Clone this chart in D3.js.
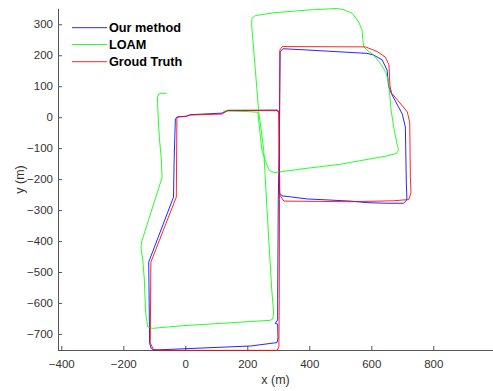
<!DOCTYPE html>
<html>
<head>
<meta charset="utf-8">
<script src="https://cdn.jsdelivr.net/npm/d3@7/dist/d3.min.js"></script>
<style>
  html, body { margin: 0; padding: 0; background: #fff; }
  svg { display: block; font-family: "Liberation Sans", Arial, Helvetica, sans-serif; }
</style>
</head>
<body>
<svg id="chart" width="493" height="391"></svg>
<script>
// Trajectories in metres (x, y)
const gtX = [-27, -21, 0, 16, 118, 139, 296, 302, 303, 305, 318, 532, 671, 721, 728, 726, 724, 716, 684, 665,
             660, 657, 645, 619, 581, 313, 305, 304, 304, 303, 302, 296, -81, -103, -113, -111, -29, -27];
const gtY = [-3, 1, 2, 7, 10, 22, 21, 14, -106, -251, -271, -273, -270, -266, -245, -193, -16, 17, 56, 78,
             104, 169, 194, 212, 227, 228, 217, -9, -267, -590, -742, -753, -753, -750, -729, -468, -258, -3];

const oursX = [-32, -26, 3, 16, 118, 136, 298, 302, 304, 304, 312, 393, 532, 586, 651, 704, 715, 713, 710, 700,
               667, 656, 651, 635, 607, 586, 393, 315, 306, 304, 300, 298, 298, 290, 298, 299, 296, 210, -102, -110,
               -115, -118, -38, -36, -32];
const oursY = [-6, 1, 3, 8, 13, 22, 23, 15, -106, -245, -254, -264, -271, -276, -278, -278, -267, -213, -32, 10,
               72, 99, 152, 185, 201, 206, 217, 221, 211, -9, -267, -590, -655, -666, -668, -713, -728, -739, -752, -747,
               -730, -468, -258, -138, -6];

const loamX = [123, 203, 234, 247, 263, 271, 287, 393, 500, 651, 682, 688, 685, 672, 664, 656, 648, 629, 607, 586,
               575, 570, 559, 538, 511, 489, 393, 285, 226, 215, 214, 226, 237, 253, 265, 279, 285, 282, 274, 145,
               -16, -107, -121, -128, -132, -137, -143, -141, -75, -77, -83, -87, -90, -86, -77, -61];
const loamY = [20, 18, 16, -106, -154, -172, -179, -165, -152, -125, -117, -106, -95, -31, 23, 110, 142, 174, 201, 217,
               228, 282, 308, 336, 347, 351, 346, 337, 328, 319, 298, 152, 17, -106, -322, -558, -632, -652, -656, -664,
               -674, -682, -677, -632, -526, -461, -422, -403, -195, -138, -74, -9, 62, 75, 77, 77];

const seriesNames = ["Our method", "LOAM", "Groud Truth"];
const seriesColors = ["#0000ff", "#00ff00", "#ff0000"];

const xTicks = [-400, -200, 0, 200, 400, 600, 800];
const yTicks = [-700, -600, -500, -400, -300, -200, -100, 0, 100, 200, 300];

const svg = d3.select("#chart");

const x = d3.scaleLinear().domain([-409, 991]).range([58.5, 492.5]);
const y = d3.scaleLinear().domain([-753.5, 351.6]).range([350.5, 8.3]);

// Axes: left and bottom only, ticks pointing inward
const xAxis = d3.axisBottom(x).tickValues(xTicks).tickFormat(d3.format("d"))
  .tickSizeInner(-4).tickSizeOuter(0).tickPadding(9.5);
const yAxis = d3.axisLeft(y).tickValues(yTicks).tickFormat(d3.format("d"))
  .tickSizeInner(-4).tickSizeOuter(0).tickPadding(5);

const gx = svg.append("g").attr("transform", "translate(0,350)").call(xAxis);
const gy = svg.append("g").attr("transform", "translate(58,0)").call(yAxis);

[gx, gy].forEach(g => {
  g.select(".domain").attr("stroke", "#555").attr("stroke-width", 1);
  g.selectAll(".tick line").attr("stroke", "#555").attr("stroke-width", 1);
  g.selectAll(".tick text").attr("fill", "#333").style("font-size", "11.5px")
    .style("font-family", "'Liberation Sans', Arial, sans-serif");
});
gx.selectAll(".tick text").attr("dy", "0.71em");

// Axis titles
svg.append("text")
  .attr("x", 275.5).attr("y", 384)
  .attr("text-anchor", "middle")
  .attr("fill", "#333")
  .style("font-size", "12.5px")
  .text("x (m)");

svg.append("text")
  .attr("transform", "translate(23.5,179.5) rotate(-90)")
  .attr("text-anchor", "middle")
  .attr("fill", "#333")
  .style("font-size", "12.5px")
  .text("y (m)");

// Trajectory lines
const line = d3.line().x(d => x(d[0])).y(d => y(d[1]));
const series = [
  { xs: oursX, ys: oursY, color: seriesColors[0] },
  { xs: loamX, ys: loamY, color: seriesColors[1] },
  { xs: gtX, ys: gtY, color: seriesColors[2] }
];

svg.append("g").selectAll("path")
  .data(series)
  .join("path")
  .attr("d", s => line(s.xs.map((v, i) => [v, s.ys[i]])))
  .attr("fill", "none")
  .attr("stroke", s => s.color)
  .attr("stroke-width", 1)
  .attr("stroke-linejoin", "round")
  .attr("stroke-opacity", 0.85);

// Legend (no frame)
const legend = svg.append("g");
const legendRows = [27.7, 44.5, 61.7];
seriesNames.forEach((name, i) => {
  legend.append("line")
    .attr("x1", 72).attr("x2", 107)
    .attr("y1", legendRows[i]).attr("y2", legendRows[i])
    .attr("stroke", seriesColors[i]).attr("stroke-width", 1)
    .attr("stroke-opacity", 0.85);
  legend.append("text")
    .attr("x", 109).attr("y", legendRows[i] + 4.6)
    .attr("fill", "#000")
    .style("font-size", "12.7px")
    .style("font-weight", "bold")
    .text(name);
});
</script>
</body>
</html>
